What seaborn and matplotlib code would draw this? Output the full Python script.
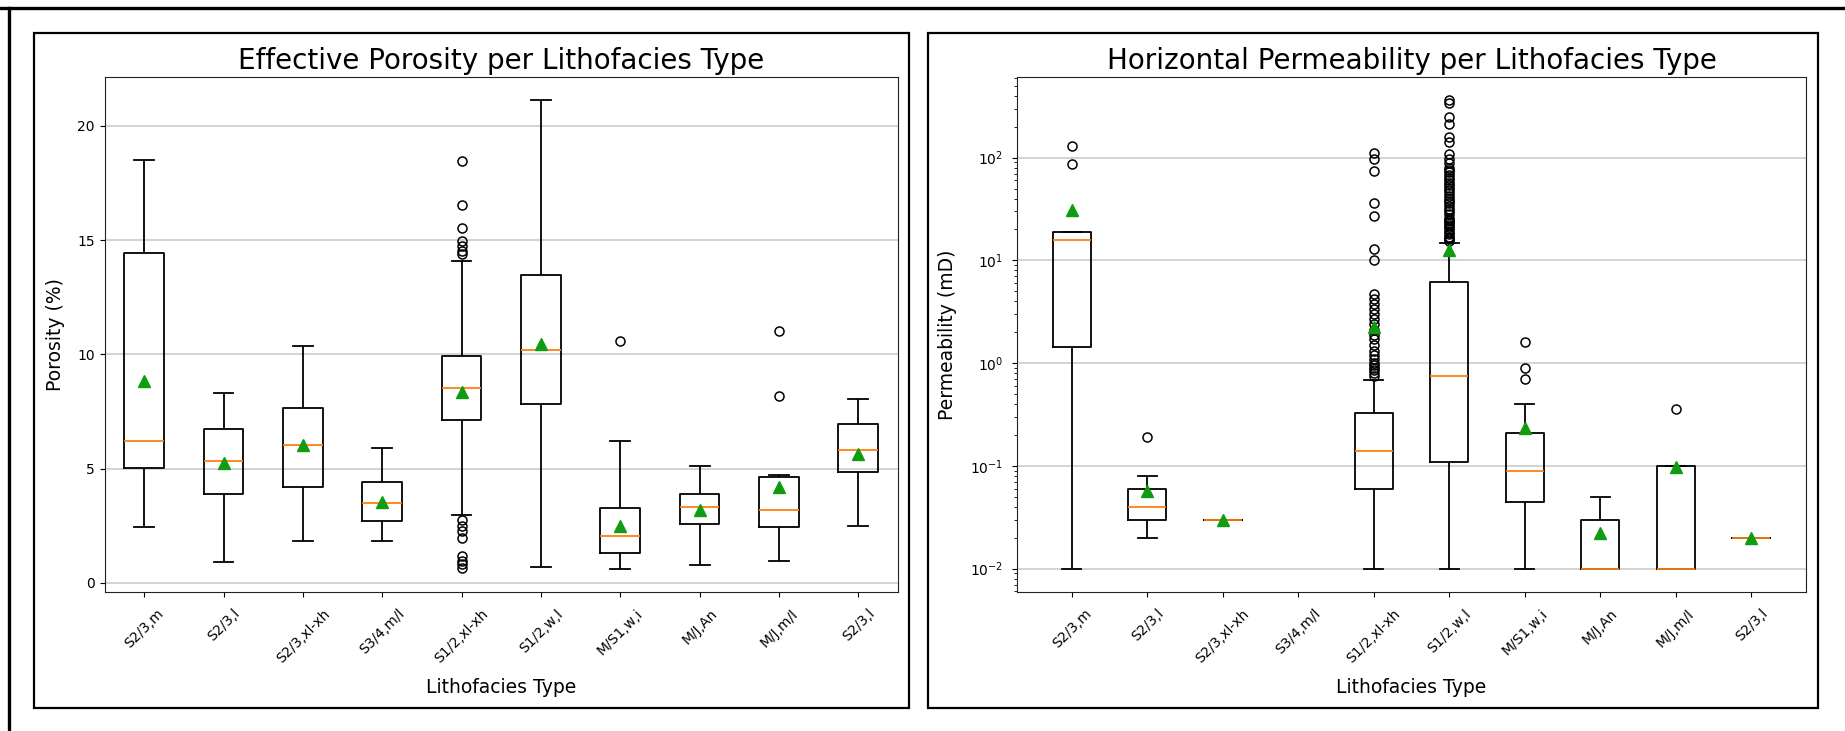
"""
Box plots of effective porosity and horizontal permeability per lithofacies type
"""

import numpy as np
import pandas as pd
import matplotlib
matplotlib.use("Agg")
import matplotlib.pyplot as plt
import seaborn as sns
from matplotlib.patches import Rectangle
from matplotlib.lines import Line2D

# ============ DATA ============
lithofacies = ['S2/3,m', 'S2/3,l', 'S2/3,xl-xh', 'S3/4,m/l', 'S1/2,xl-xh',
               'S1/2,w,l', 'M/S1,w,i', 'M/J,An', 'M/J,m/l', 'S2/3,l']

# effective porosity (%) samples per facies
por_s23_m = [2.42, 4.1, 5.04, 5.6, 6.22, 8.9, 14.41, 14.47, 18.49]
por_s23_l = [0.89, 3.2, 3.89, 4.6, 5.33, 6.1, 6.72, 8.14, 8.29]
por_s23_xl = [1.81, 3.5, 4.21, 5.3, 6.04, 7.0, 7.63, 8.23, 10.37]
por_s34_ml = [1.81, 2.2, 2.72, 3.0, 3.47, 3.8, 4.42, 4.46, 5.89]
por_s12_xl = [0.65, 0.8, 0.95, 1.15, 1.95, 2.25, 2.5, 2.75, 2.95, 4.0, 5.0, 6.0,
              7.12, 7.2, 7.3, 7.4, 7.5, 7.6, 7.7, 7.8, 7.9, 8.0, 8.2, 8.4,
              8.52, 8.6, 8.7, 8.8, 8.9, 9.0, 9.1, 9.2, 9.3, 9.4, 9.6, 9.8,
              9.92, 10.2, 10.8, 11.3, 11.7, 14.1,
              14.39, 14.54, 14.76, 14.94, 15.52, 16.54, 18.44]
por_s12_wl = [0.70, 6.0, 7.82, 9.0, 10.18, 11.8, 13.46, 13.8, 21.11]
por_ms1_wi = [0.62, 0.7, 0.8, 0.9, 1.0, 1.1, 1.30, 1.4, 1.5, 1.6, 1.7, 1.9, 2.06,
              2.1, 2.2, 2.3, 2.4, 2.6, 3.27, 3.3, 3.4, 3.5, 3.56, 6.2, 10.59]
por_mj_an = [0.76, 2.0, 2.55, 3.0, 3.31, 3.6, 3.89, 4.48, 5.12]
por_mj_ml = [0.96, 2.2, 2.35, 2.42, 2.9, 3.1, 3.18, 4.4, 4.56, 4.63, 4.70, 8.19, 11.01]
por_s23_l2 = [2.48, 4.0, 4.84, 5.3, 5.80, 6.4, 6.93, 6.97, 8.04]

# horizontal permeability (mD) samples per facies
perm_s23_m = [0.01, 0.5, 1.42, 12.0, 15.9, 17.87, 19.0, 86.5, 128.5]
perm_s23_l = [0.02, 0.02, 0.03, 0.03, 0.04, 0.04, 0.06, 0.08, 0.19]
perm_s23_xl = [0.03]
perm_s34_ml = []
# frequency tables for the two large groups (value, count) + listed high values
perm_s12_xl_vals = [0.01, 0.02, 0.03, 0.04, 0.05, 0.06, 0.07, 0.08, 0.09, 0.10, 0.12, 0.13,
                    0.14, 0.16, 0.18, 0.21, 0.25, 0.29, 0.33, 0.38, 0.43, 0.5, 0.58, 0.68]
perm_s12_xl_counts = [15, 10, 10, 7, 6, 10, 8, 8, 6, 6, 6, 4,
                      8, 8, 8, 8, 8, 8, 4, 4, 4, 4, 4, 2]
perm_s12_xl_high = [0.75, 0.8, 0.85, 0.9, 0.95, 1.0, 1.1, 1.2, 1.3, 1.5, 1.7, 1.9,
                    2.1, 2.4, 2.7, 3.0, 3.4, 3.8, 4.2, 4.7,
                    10.0, 12.8, 27.0, 36.0, 73.5, 97.0, 111.0]
perm_s12_wl_vals = [0.01, 0.02, 0.04, 0.06, 0.08,
                    0.11, 0.15, 0.2, 0.3, 0.4, 0.55,
                    0.75, 1.0, 1.5, 2.2, 3.2, 4.5,
                    6.1, 7.0, 8.5, 10.0, 12.0, 14.8]
perm_s12_wl_counts = [28, 11, 11, 9, 7,
                      11, 11, 11, 11, 11, 11,
                      11, 11, 11, 11, 11, 11,
                      5, 5, 5, 4, 4, 3]
perm_s12_wl_high = [15.5, 16, 16.5, 17, 18, 19, 20, 21, 22, 23, 24, 25, 26, 28, 30,
                    32, 34, 36, 38, 40, 42, 45, 48, 51, 54, 57, 60, 64, 68,
                    72, 76, 80, 88, 97, 108,
                    142, 159, 214, 248, 340, 361]
perm_ms1_wi = [0.01, 0.01, 0.02, 0.03, 0.04, 0.04, 0.044, 0.05, 0.06, 0.07, 0.08, 0.09,
               0.09, 0.11, 0.14, 0.16, 0.18, 0.2, 0.21, 0.3, 0.35, 0.4, 0.7, 0.9, 1.6]
perm_mj_an = [0.01, 0.01, 0.01, 0.01, 0.01, 0.03, 0.03, 0.04, 0.05]
perm_mj_ml = [0.01, 0.01, 0.01, 0.1, 0.36]
perm_s23_l2 = [0.02]

FIG_W, FIG_H = 1845, 731
LW = 1.3


def long_frame(groups):
    """Stack per-facies samples into a long table"""
    rows = []
    for i, vals in enumerate(groups):
        for v in vals:
            rows.append((i, v))
    return pd.DataFrame(rows, columns=['facies', 'value'])


def px_rect(fig, x0, y0, x1, y1, lw):
    """Rectangle given in pixel coords (top-left origin)"""
    return Rectangle((x0 / FIG_W, 1 - y1 / FIG_H), (x1 - x0) / FIG_W, (y1 - y0) / FIG_H,
                     transform=fig.transFigure, fill=False, edgecolor='black',
                     linewidth=lw)


def draw_panel(ax, df, title, ylabel, ypad, ylabelpad):
    sns.boxplot(
        data=df, x='facies', y='value', order=list(range(len(lithofacies))),
        ax=ax, color='black', fill=False, width=0.5, whis=1.5,
        showmeans=True, capwidths=0.25,
        boxprops=dict(color='black', linewidth=LW),
        whiskerprops=dict(color='black', linewidth=LW),
        capprops=dict(color='black', linewidth=LW),
        medianprops=dict(color='#ff7f0e', linewidth=LW),
        meanprops=dict(marker='^', markerfacecolor='#109c10',
                       markeredgecolor='#109c10', markersize=8),
        flierprops=dict(marker='o', markerfacecolor='none', markeredgecolor='black',
                        markersize=6.5, markeredgewidth=1.1),
    )
    ax.set_title(title, fontsize=20)
    ax.set_xlabel('Lithofacies Type', fontsize=13.5, labelpad=9)
    ax.set_ylabel(ylabel, fontsize=13.5, labelpad=ylabelpad)
    ax.set_xticks(range(len(lithofacies)))
    ax.set_xticklabels(lithofacies, rotation=45)
    ax.tick_params(labelsize=10)
    ax.tick_params(axis='x', pad=7)
    ax.tick_params(axis='y', which='both', pad=ypad)
    ax.set_axisbelow(True)
    ax.yaxis.grid(True, which='major', color='#c8c8c8', linewidth=1.1)
    ax.xaxis.grid(False)
    for sp in ax.spines.values():
        sp.set_color('#222222')


def main():
    porosity = [por_s23_m, por_s23_l, por_s23_xl, por_s34_ml, por_s12_xl,
                por_s12_wl, por_ms1_wi, por_mj_an, por_mj_ml, por_s23_l2]
    perm_s12_xl = list(np.repeat(perm_s12_xl_vals, perm_s12_xl_counts)) + perm_s12_xl_high
    perm_s12_wl = list(np.repeat(perm_s12_wl_vals, perm_s12_wl_counts)) + perm_s12_wl_high
    permeability = [perm_s23_m, perm_s23_l, perm_s23_xl, perm_s34_ml, perm_s12_xl,
                    perm_s12_wl, perm_ms1_wi, perm_mj_an, perm_mj_ml, perm_s23_l2]

    fig = plt.figure(figsize=(FIG_W / 100, FIG_H / 100), dpi=100)
    ax1 = fig.add_axes([104.5 / FIG_W, 1 - 592 / FIG_H, 793.5 / FIG_W, 515 / FIG_H])
    ax2 = fig.add_axes([1017 / FIG_W, 1 - 592 / FIG_H, 789 / FIG_W, 515 / FIG_H])

    draw_panel(ax1, long_frame(porosity),
               'Effective Porosity per Lithofacies Type', 'Porosity (%)', 3.5, 9)
    draw_panel(ax2, long_frame(permeability),
               'Horizontal Permeability per Lithofacies Type', 'Permeability (mD)', 6.5, 9)
    ax2.set_yscale('log')
    ax2.autoscale_view()
    ax2.yaxis.grid(True, which='major', color='#c8c8c8', linewidth=1.1)
    ax2.yaxis.grid(False, which='minor')

    # frames around each panel and the outer border of the screenshot
    fig.add_artist(px_rect(fig, 34, 33, 909, 708, 1.6))
    fig.add_artist(px_rect(fig, 928, 33, 1818, 708, 1.6))
    fig.add_artist(Line2D([0, 1], [1 - 8 / FIG_H] * 2, transform=fig.transFigure,
                          color='black', linewidth=2.4))
    fig.add_artist(Line2D([9 / FIG_W] * 2, [0, 1 - 8 / FIG_H], transform=fig.transFigure,
                          color='black', linewidth=2.4))

    fig.savefig('out.png', dpi=100)


if __name__ == "__main__":
    main()
